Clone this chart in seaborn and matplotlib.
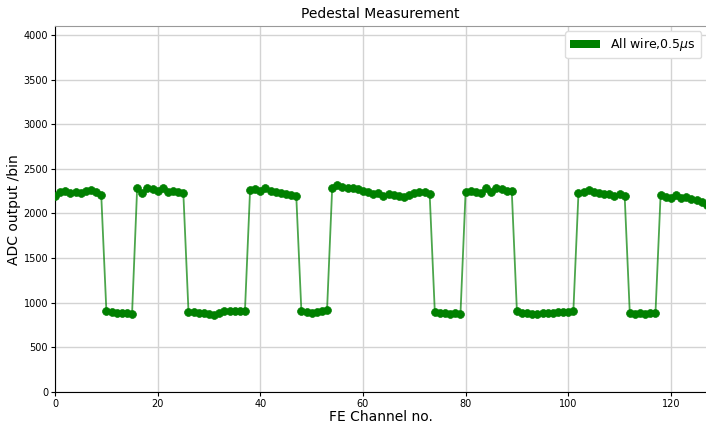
import numpy as np
import pandas as pd
import matplotlib
matplotlib.use("Agg")
import matplotlib.pyplot as plt
from matplotlib.patches import Patch
import seaborn as sns

channels = list(range(128))
adc_values = [
    # 0-9 high
    2200, 2240, 2250, 2225, 2240, 2230, 2250, 2260, 2240, 2205,
    # 10-15 low
    905, 900, 890, 880, 885, 870,
    # 16-25 high
    2290, 2225, 2280, 2275, 2255, 2285, 2240, 2255, 2240, 2225,
    # 26-37 low
    900, 895, 890, 885, 875, 865, 880, 910, 910, 905, 905, 905,
    # 38-47 high
    2260, 2270, 2250, 2285, 2255, 2235, 2225, 2220, 2210, 2200,
    # 48-53 low
    905, 895, 890, 895, 905, 915,
    # 54-73 high
    2280, 2320, 2295, 2290, 2280, 2270, 2255, 2235, 2215, 2225,
    2195, 2215, 2210, 2195, 2180, 2210, 2225, 2240, 2235, 2215,
    # 74-79 low
    900, 885, 880, 870, 880, 870,
    # 80-89 high
    2240, 2250, 2240, 2230, 2280, 2240, 2290, 2270, 2255, 2250,
    # 90-101 low
    905, 890, 880, 875, 875, 880, 885, 890, 895, 900, 900, 905,
    # 102-111 high
    2230, 2240, 2265, 2235, 2225, 2220, 2215, 2195, 2220, 2195,
    # 112-117 low
    880, 875, 880, 878, 880, 880,
    # 118-127 high
    2205, 2180, 2175, 2210, 2170, 2180, 2160, 2150, 2125, 2100,
]
x_ticks = [0, 20, 40, 60, 80, 100, 120]
y_ticks = [0, 500, 1000, 1500, 2000, 2500, 3000, 3500, 4000]
legend_label = r"All wire,0.5$\mu$s"

df = pd.DataFrame({"channel": channels, "adc": adc_values})

fig = plt.figure(figsize=(7.06, 4.26), dpi=100)
ax = fig.add_axes([0.078, 0.08, 0.922, 0.858])

sns.lineplot(data=df, x="channel", y="adc", ax=ax, color="green",
             linewidth=1.3, alpha=0.7)
sns.scatterplot(data=df, x="channel", y="adc", ax=ax, color="green",
                s=32, edgecolor="green", linewidth=0.5, zorder=3)

ax.set_xlim(0, 126.85)
ax.set_ylim(0, 4096)
ax.set_xticks(x_ticks)
ax.set_yticks(y_ticks)
ax.tick_params(labelsize=7, length=3, pad=2)
ax.grid(True, color="#d3d3d3", linewidth=1)
ax.set_axisbelow(True)
ax.set_xlabel("FE Channel no.", fontsize=10, labelpad=1)
ax.set_ylabel("ADC output /bin", fontsize=10, labelpad=2)
ax.set_title("Pedestal Measurement", fontsize=10, pad=6)
ax.spines["right"].set_visible(False)
ax.spines["top"].set_color("#999999")

ax.legend(handles=[Patch(facecolor="green", label=legend_label)],
          loc="upper right", fontsize=9, framealpha=1, edgecolor="#dddddd",
          handlelength=2.4, borderaxespad=0.4)

fig.savefig("out.png", dpi=100)
